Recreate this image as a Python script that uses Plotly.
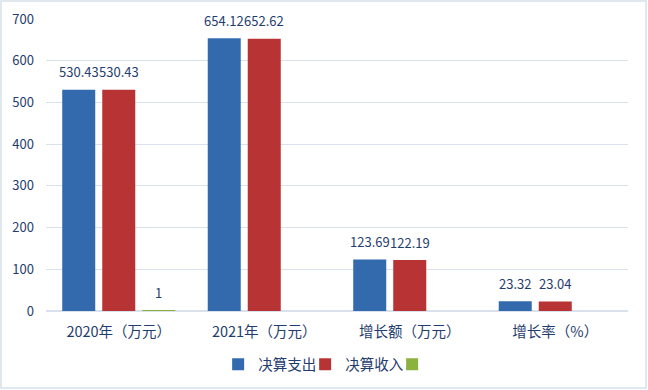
import plotly.graph_objects as go

categories = ["2020年（万元）", "2021年（万元）", "增长额（万元）", "增长率（%）"]
spend = [530.43, 654.12, 123.69, 23.32]
income = [530.43, 652.62, 122.19, 23.04]
other = [1, None, None, None]
spend_labels = ["530.43", "654.12", "123.69", "23.32"]
income_labels = ["530.43", "652.62", "122.19", "23.04"]
other_labels = ["1", "", "", ""]
yticks = [0, 100, 200, 300, 400, 500, 600, 700]

txtcolor = "#1F3D6E"
font = "Noto Sans CJK SC, Noto Sans, sans-serif"
bargap = 0.175
slot = (1 - bargap) / 3

fig = go.Figure()
series = [("决算支出", spend, spend_labels, "#336AAE"),
          ("决算收入", income, income_labels, "#B83434"),
          ("", other, other_labels, "#8AB23C")]
annotations = []
for k, (name, vals, labs, col) in enumerate(series):
    fig.add_bar(x=categories, y=vals, name=name, marker_color=col, marker_line_width=0)
    for i, (v, t) in enumerate(zip(vals, labs)):
        if v is None or not t:
            continue
        annotations.append(dict(x=i + (k - 1) * slot, y=v, xref="x", yref="y", text=t,
                                showarrow=False, yshift=18, yanchor="middle",
                                font=dict(color=txtcolor, size=13, family=font)))

fig.update_layout(
    width=648, height=390,
    margin=dict(l=46, r=20, t=19, b=79, autoexpand=False),
    paper_bgcolor="white", plot_bgcolor="white",
    barmode="group", bargap=bargap, bargroupgap=0.175,
    font=dict(family=font, color=txtcolor, size=12),
    showlegend=True,
    legend=dict(orientation="h", x=0.52, xanchor="center", yref="container", y=0.066,
                yanchor="middle", font=dict(size=14.5, color=txtcolor), itemwidth=30,
                entrywidth=42, traceorder="normal"),
    xaxis=dict(showgrid=False, showline=False, ticks="", tickfont=dict(size=14.5),
               automargin=False, ticklabelstandoff=10),
    yaxis=dict(range=[0, 700], tickvals=yticks, showgrid=True, gridcolor="#D9E2EC",
               gridwidth=1, zeroline=True, zerolinecolor="#D9E2EC", showline=False,
               tickfont=dict(size=13), ticklabelstandoff=11, automargin=False),
    annotations=annotations,
    shapes=[dict(type="rect", xref="paper", yref="paper",
                 x0=-45/582, x1=1 + 18/582, y0=-77/292, y1=1 + 18/292,
                 line=dict(color="#D5DFEA", width=1.5), fillcolor="rgba(0,0,0,0)")],
)
fig.write_html("out.html")
